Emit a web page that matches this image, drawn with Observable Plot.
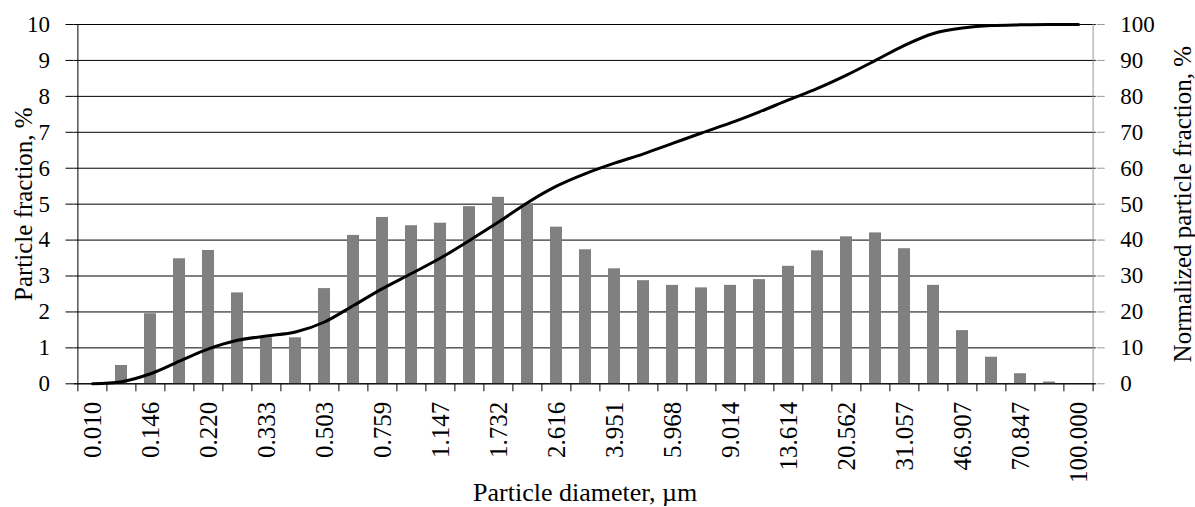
<!DOCTYPE html>
<html>
<head>
<meta charset="utf-8">
<script src="https://cdn.jsdelivr.net/npm/d3@7"></script>
<script src="https://cdn.jsdelivr.net/npm/@observablehq/plot@0.6"></script>
<style>
  html, body { margin: 0; padding: 0; background: #fff; }
  svg { display: block; }
</style>
</head>
<body>
<div id="chart"></div>
<script>
// Particle diameter categories (µm)
const categories = [
  "0.010", "0.119", "0.146", "0.179", "0.220", "0.270", "0.333", "0.409",
  "0.503", "0.618", "0.759", "0.933", "1.147", "1.409", "1.732", "2.128",
  "2.616", "3.215", "3.951", "4.855", "5.968", "7.334", "9.014", "11.077",
  "13.614", "16.730", "20.562", "25.270", "31.057", "38.167", "46.907",
  "57.640", "70.847", "87.060", "100.000"
];
// Particle fraction, % (bars, left axis)
const fractions = [
  0, 0.51, 1.95, 3.48, 3.71, 2.53, 1.28, 1.28, 2.65, 4.13, 4.63, 4.40,
  4.47, 4.93, 5.19, 5.00, 4.36, 3.73, 3.20, 2.87, 2.74, 2.67, 2.74, 2.90,
  3.27, 3.70, 4.09, 4.20, 3.76, 2.74, 1.48, 0.74, 0.28, 0.05, 0
];
// Normalized (cumulative) particle fraction, % (line, right axis)
const cumulative = [
  0, 0.6, 2.8, 6.3, 9.7, 12.1, 13.3, 14.4, 17.2, 21.8, 26.5, 30.7,
  35.0, 39.9, 45.0, 50.4, 55.0, 58.5, 61.4, 64.0, 66.9, 69.8, 72.6, 75.7,
  79.0, 82.2, 85.9, 90.0, 94.2, 97.5, 99.0, 99.7, 99.9, 100, 100
];
// Labelled x ticks (every other category)
const xTickLabels = [
  "0.010", "0.146", "0.220", "0.333", "0.503", "0.759", "1.147", "1.732",
  "2.616", "3.951", "5.968", "9.014", "13.614", "20.562", "31.057",
  "46.907", "70.847", "100.000"
];
const leftTicks = [0, 1, 2, 3, 4, 5, 6, 7, 8, 9, 10];
const rightTickLabels = ["0", "10", "20", "30", "40", "50", "60", "70", "80", "90", "100"];

const xTitle = "Particle diameter, µm";
const yLeftTitle = "Particle fraction, %";
const yRightTitle = "Normalized particle fraction, %";

const W = 1195, H = 507;
const mL = 73.5, mR = 99.3, mT = 24, mB = 123.7;
const step = (W - mL - mR) / categories.length;
const frameH = H - mT - mB;

const data = categories.map((c, i) => ({c, f: fractions[i], cum: cumulative[i]}));
const font = '"Liberation Serif", "Times New Roman", serif';

const chart = Plot.plot({
  width: W,
  height: H,
  marginLeft: mL,
  marginRight: mR,
  marginTop: mT,
  marginBottom: mB,
  style: {fontFamily: font, color: "#000", background: "#fff", overflow: "visible"},
  x: {type: "band", domain: categories, paddingInner: 0.6, paddingOuter: 0.3},
  y: {domain: [0, 10]},
  marks: [
    Plot.gridY(leftTicks, {stroke: "#000", strokeOpacity: 1, strokeWidth: 1}),
    Plot.barY(data, {x: "c", y: "f", fill: "#808080"}),
    // x axis line
    Plot.ruleY([0], {stroke: "#000", strokeWidth: 1}),
    // left axis line
    Plot.ruleX([categories[0]], {dx: -step / 2, stroke: "#000", strokeWidth: 1}),
    // right axis line
    Plot.ruleX([categories[categories.length - 1]], {dx: step / 2, stroke: "#999", strokeWidth: 1}),
    // x tick marks at category boundaries
    Plot.ruleX(categories, {dx: -step / 2, stroke: "#000", insetTop: frameH, insetBottom: -8}),
    Plot.ruleX([categories[categories.length - 1]], {dx: step / 2, stroke: "#000", insetTop: frameH, insetBottom: -8}),
    // x tick labels
    Plot.axisX(xTickLabels, {
      anchor: "bottom", tickSize: 0, tickPadding: 18, tickRotate: -90,
      fontSize: 25, label: null, fill: "#000"
    }),
    // left axis
    Plot.axisY(leftTicks, {
      anchor: "left", tickSize: 8, tickPadding: 16, fontSize: 23,
      label: null, stroke: "#000", fill: "#000"
    }),
    // right axis
    Plot.axisY(leftTicks, {
      anchor: "right", tickSize: 8, tickPadding: 16, fontSize: 23,
      label: null, stroke: "#999", fill: "#000",
      tickFormat: (d, i) => rightTickLabels[i]
    }),
    // cumulative line
    Plot.line(data, {
      x: "c", y: d => d.cum / 10, stroke: "#000", strokeWidth: 3,
      curve: "monotone-x"
    }),
    // axis titles
    Plot.text([yLeftTitle], {
      text: d => d, frameAnchor: "left", rotate: -90, dx: -50.5,
      fontSize: 25, fill: "#000", textAnchor: "middle", lineAnchor: "middle"
    }),
    Plot.text([yRightTitle], {
      text: d => d, frameAnchor: "right", rotate: -90, dx: 87,
      fontSize: 25, fill: "#000", textAnchor: "middle", lineAnchor: "middle"
    }),
    Plot.text([xTitle], {
      text: d => d, frameAnchor: "bottom", dy: 117,
      fontSize: 26, fill: "#000", textAnchor: "middle", lineAnchor: "bottom"
    })
  ]
});

document.getElementById("chart").appendChild(chart);
</script>
</body>
</html>
